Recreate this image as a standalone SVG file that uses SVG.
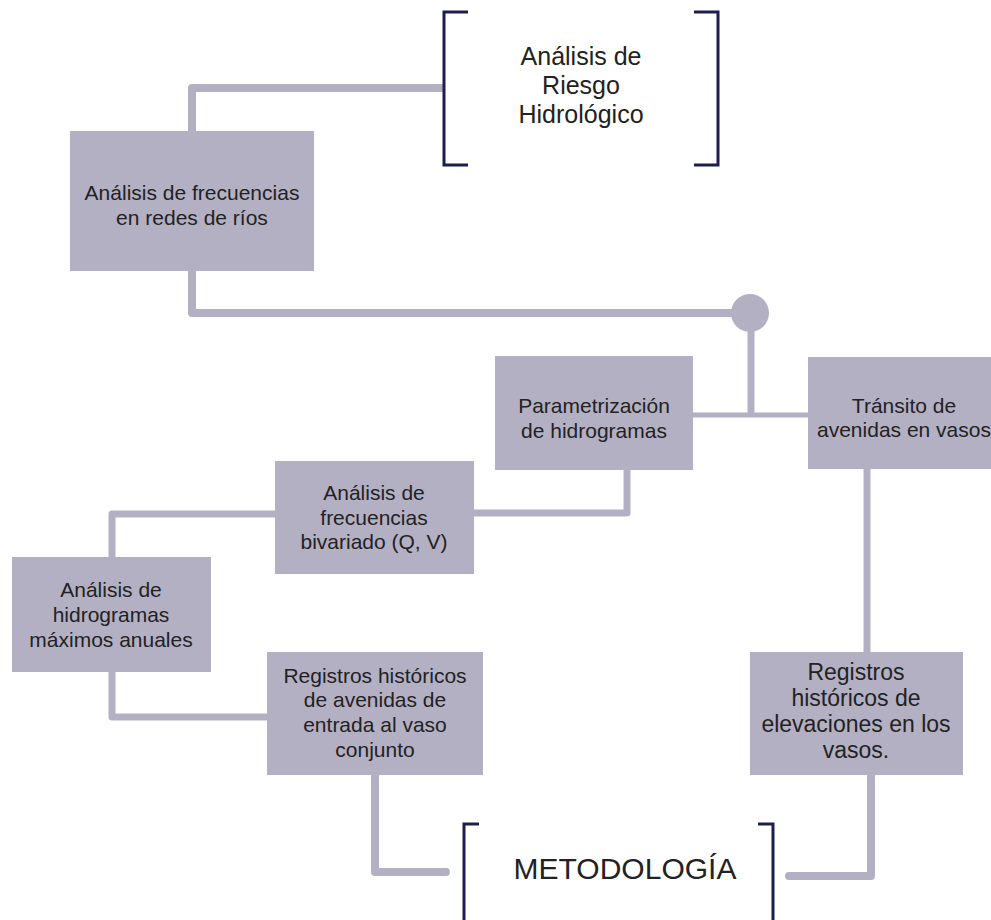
<svg xmlns="http://www.w3.org/2000/svg" width="991" height="920" viewBox="0 0 991 920">
<style>
.box{fill:#b4b0c4}
.t{font-family:"Liberation Sans",Arial,sans-serif;font-size:21px;fill:#222;text-anchor:middle}
.big{font-size:25px}
.mid{font-size:23px}
.meta{font-size:30px}
.c{fill:none;stroke:#b4b0c4;stroke-width:8;stroke-linejoin:round;stroke-linecap:butt}
.br{fill:none;stroke:#1b1e4f;stroke-width:3}
</style>
<rect width="991" height="920" fill="#fff"/>
<g id="connectors">
<path class="c" d="M443 88 H192 V131"/>
<path class="c" d="M192 271 V313 H740"/>
<circle cx="750" cy="313" r="19" fill="#b4b0c4"/>
<path class="c" style="stroke-width:7" d="M751 313 V417"/>
<path class="c" style="stroke-width:5" d="M693 415 H808"/>
<path class="c" style="stroke-width:7" d="M627 470 V513 H474"/>
<path class="c" style="stroke-width:7" d="M275 514 H112 V557"/>
<path class="c" style="stroke-width:7" d="M112 672 V717 H267"/>
<path class="c" style="stroke-width:7" d="M867 469 V652"/>
<path class="c" style="stroke-linecap:round" d="M375 775 V872 H446"/>
<path class="c" style="stroke-linecap:round" d="M871 775 V876 H789"/>
</g>
<g id="riesgo">
<path class="br" d="M468 12 H444 V165 H468"/>
<path class="br" d="M694 12 H718 V165 H694"/>
<text class="t big" x="581" y="65">Análisis de</text>
<text class="t big" x="581" y="94">Riesgo</text>
<text class="t big" x="581" y="123">Hidrológico</text>
</g>
<g id="frec-redes">
<rect class="box" x="70" y="131" width="244" height="140"/>
<text class="t" x="192" y="200">Análisis de frecuencias</text>
<text class="t" x="192" y="225">en redes de ríos</text>
</g>
<g id="parametrizacion">
<rect class="box" x="495" y="356" width="198" height="114"/>
<text class="t" x="594" y="413">Parametrización</text>
<text class="t" x="594" y="438">de hidrogramas</text>
</g>
<g id="transito">
<rect class="box" x="808" y="357" width="192" height="112"/>
<text class="t" x="904" y="413">Tránsito de</text>
<text class="t" x="904" y="437">avenidas en vasos</text>
</g>
<g id="bivariado">
<rect class="box" x="275" y="461" width="199" height="113"/>
<text class="t" x="374" y="500">Análisis de</text>
<text class="t" x="374" y="525">frecuencias</text>
<text class="t" x="374" y="549">bivariado (Q, V)</text>
</g>
<g id="hidrogramas">
<rect class="box" x="12" y="557" width="199" height="115"/>
<text class="t" x="111" y="597">Análisis de</text>
<text class="t" x="111" y="622">hidrogramas</text>
<text class="t" x="111" y="647">máximos anuales</text>
</g>
<g id="registros-avenidas">
<rect class="box" x="267" y="652" width="216" height="123"/>
<text class="t" x="375" y="683">Registros históricos</text>
<text class="t" x="375" y="707">de avenidas de</text>
<text class="t" x="375" y="732">entrada al vaso</text>
<text class="t" x="375" y="757">conjunto</text>
</g>
<g id="registros-elevaciones">
<rect class="box" x="750" y="652" width="213" height="123"/>
<text class="t mid" x="856" y="680">Registros</text>
<text class="t mid" x="856" y="706">históricos de</text>
<text class="t mid" x="856" y="732">elevaciones en los</text>
<text class="t mid" x="856" y="758">vasos.</text>
</g>
<g id="metodologia">
<path class="br" d="M479 824 H464 V922"/>
<path class="br" d="M758 824 H773 V922"/>
<text class="t meta" x="625" y="879">METODOLOGÍA</text>
</g>
</svg>
